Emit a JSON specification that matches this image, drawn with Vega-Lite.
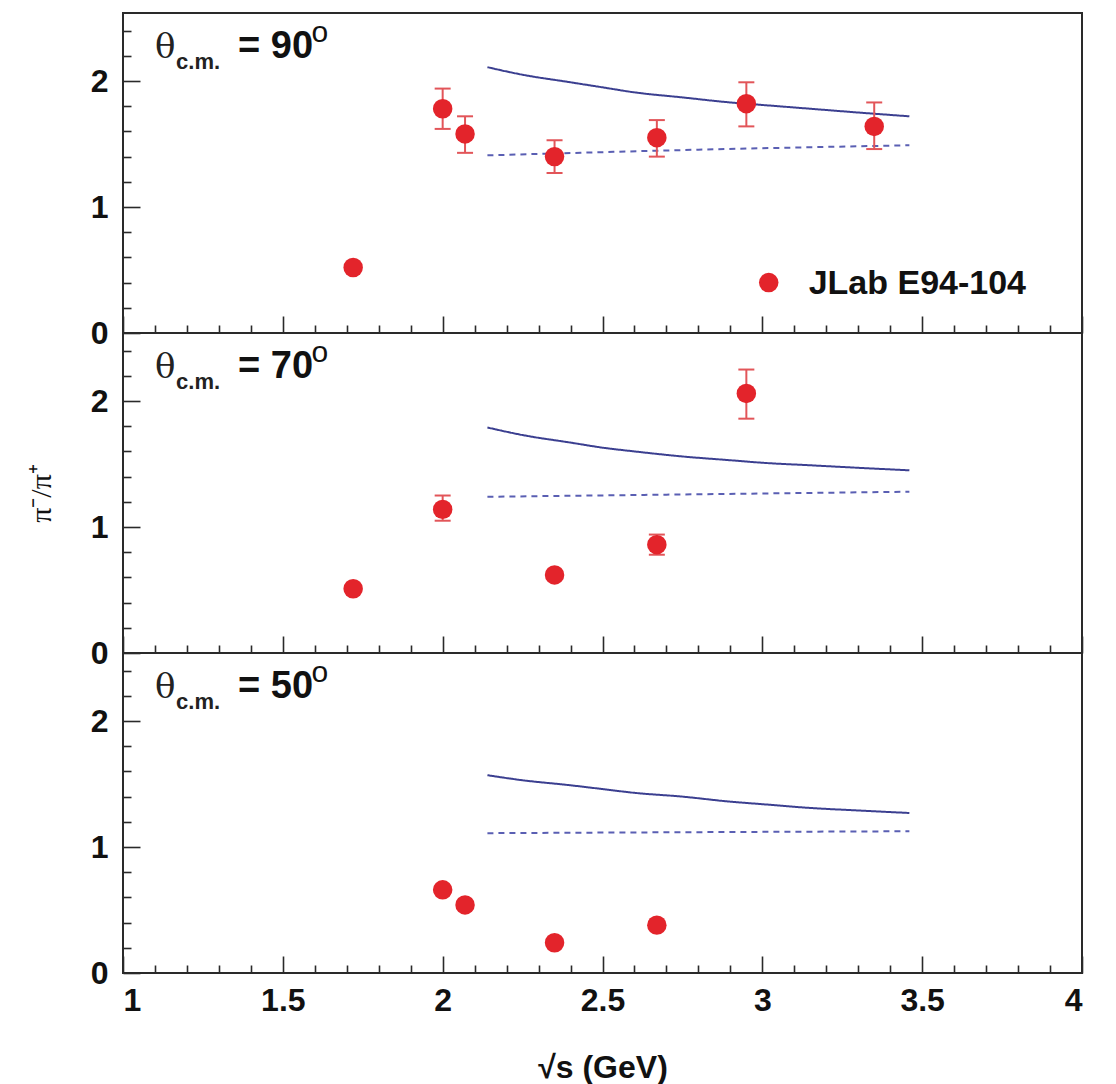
{
  "$schema": "https://vega.github.io/schema/vega-lite/v6.json",
  "padding": {"left": 25, "top": 12, "right": 5, "bottom": 5},
  "background": "white",
  "datasets": {
    "points": [
      {"panel": 90, "s": 1.72, "r": 0.52, "lo": null, "hi": null},
      {"panel": 90, "s": 2.0, "r": 1.78, "lo": 1.62, "hi": 1.94},
      {"panel": 90, "s": 2.07, "r": 1.58, "lo": 1.43, "hi": 1.72},
      {"panel": 90, "s": 2.35, "r": 1.40, "lo": 1.27, "hi": 1.53},
      {"panel": 90, "s": 2.67, "r": 1.55, "lo": 1.40, "hi": 1.69},
      {"panel": 90, "s": 2.95, "r": 1.82, "lo": 1.64, "hi": 1.99},
      {"panel": 90, "s": 3.35, "r": 1.64, "lo": 1.46, "hi": 1.83},
      {"panel": 70, "s": 1.72, "r": 0.51, "lo": null, "hi": null},
      {"panel": 70, "s": 2.0, "r": 1.14, "lo": 1.05, "hi": 1.25},
      {"panel": 70, "s": 2.35, "r": 0.62, "lo": null, "hi": null},
      {"panel": 70, "s": 2.67, "r": 0.86, "lo": 0.78, "hi": 0.94},
      {"panel": 70, "s": 2.95, "r": 2.06, "lo": 1.86, "hi": 2.25},
      {"panel": 50, "s": 2.0, "r": 0.66, "lo": null, "hi": null},
      {"panel": 50, "s": 2.07, "r": 0.54, "lo": null, "hi": null},
      {"panel": 50, "s": 2.35, "r": 0.24, "lo": null, "hi": null},
      {"panel": 50, "s": 2.67, "r": 0.38, "lo": null, "hi": null}
    ],
    "curves": [
      {"panel": 90, "model": "curve1", "s": 2.14, "r": 2.11},
      {"panel": 90, "model": "curve1", "s": 2.25, "r": 2.05},
      {"panel": 90, "model": "curve1", "s": 2.4, "r": 1.99},
      {"panel": 90, "model": "curve1", "s": 2.5, "r": 1.95},
      {"panel": 90, "model": "curve1", "s": 2.6, "r": 1.91},
      {"panel": 90, "model": "curve1", "s": 2.75, "r": 1.87},
      {"panel": 90, "model": "curve1", "s": 2.9, "r": 1.83},
      {"panel": 90, "model": "curve1", "s": 3.0, "r": 1.81},
      {"panel": 90, "model": "curve1", "s": 3.15, "r": 1.78},
      {"panel": 90, "model": "curve1", "s": 3.3, "r": 1.75},
      {"panel": 90, "model": "curve1", "s": 3.46, "r": 1.72},
      {"panel": 90, "model": "curve2", "s": 2.14, "r": 1.41},
      {"panel": 90, "model": "curve2", "s": 2.8, "r": 1.455},
      {"panel": 90, "model": "curve2", "s": 3.46, "r": 1.49},
      {"panel": 70, "model": "curve1", "s": 2.14, "r": 1.79},
      {"panel": 70, "model": "curve1", "s": 2.25, "r": 1.73},
      {"panel": 70, "model": "curve1", "s": 2.4, "r": 1.67},
      {"panel": 70, "model": "curve1", "s": 2.5, "r": 1.63},
      {"panel": 70, "model": "curve1", "s": 2.6, "r": 1.60},
      {"panel": 70, "model": "curve1", "s": 2.75, "r": 1.56},
      {"panel": 70, "model": "curve1", "s": 2.9, "r": 1.53},
      {"panel": 70, "model": "curve1", "s": 3.0, "r": 1.51},
      {"panel": 70, "model": "curve1", "s": 3.15, "r": 1.49},
      {"panel": 70, "model": "curve1", "s": 3.3, "r": 1.47},
      {"panel": 70, "model": "curve1", "s": 3.46, "r": 1.45},
      {"panel": 70, "model": "curve2", "s": 2.14, "r": 1.24},
      {"panel": 70, "model": "curve2", "s": 2.8, "r": 1.26},
      {"panel": 70, "model": "curve2", "s": 3.46, "r": 1.28},
      {"panel": 50, "model": "curve1", "s": 2.14, "r": 1.57},
      {"panel": 50, "model": "curve1", "s": 2.25, "r": 1.53},
      {"panel": 50, "model": "curve1", "s": 2.4, "r": 1.49},
      {"panel": 50, "model": "curve1", "s": 2.5, "r": 1.46},
      {"panel": 50, "model": "curve1", "s": 2.6, "r": 1.43},
      {"panel": 50, "model": "curve1", "s": 2.75, "r": 1.40},
      {"panel": 50, "model": "curve1", "s": 2.9, "r": 1.36},
      {"panel": 50, "model": "curve1", "s": 3.0, "r": 1.34},
      {"panel": 50, "model": "curve1", "s": 3.15, "r": 1.31},
      {"panel": 50, "model": "curve1", "s": 3.3, "r": 1.29},
      {"panel": 50, "model": "curve1", "s": 3.46, "r": 1.27},
      {"panel": 50, "model": "curve2", "s": 2.14, "r": 1.11},
      {"panel": 50, "model": "curve2", "s": 2.8, "r": 1.118},
      {"panel": 50, "model": "curve2", "s": 3.46, "r": 1.125}
    ],
    "panelinfo": [
      {"panel": 90, "angle": "= 90"},
      {"panel": 70, "angle": "= 70"},
      {"panel": 50, "angle": "= 50"}
    ]
  },
  "config": {
    "view": {"stroke": "#2a2a2a", "strokeWidth": 2},
    "axis": {
      "grid": false,
      "domain": false,
      "labelOverlap": false,
      "tickColor": "#2a2a2a",
      "tickWidth": 1.6,
      "labelFont": "Liberation Sans",
      "labelFontWeight": "bold",
      "labelFontSize": 32,
      "labelColor": "#111111",
      "titleColor": "#111111"
    }
  },
  "spacing": 0,
  "bounds": "flush",
  "vconcat": [
    {
      "width": 959,
      "height": 320,
      "layer": [
        {
          "encoding": {
            "x": {"field": "s", "type": "quantitative", "scale": {"domain": [1, 4], "nice": false, "zero": false},
              "axis": {"title": null, "labels": false, "values": [1,1.1,1.2,1.3,1.4,1.5,1.6,1.7,1.8,1.9,2,2.1,2.2,2.3,2.4,2.5,2.6,2.7,2.8,2.9,3,3.1,3.2,3.3,3.4,3.5,3.6,3.7,3.8,3.9,4],
                "tickSize": {"condition": {"test": "abs(datum.value*2 - round(datum.value*2)) < 0.001", "value": -17}, "value": -8}}},
            "y": {"field": "r", "type": "quantitative", "scale": {"domain": [0, 2.54], "nice": false},
              "axis": {"title": null, "values": [0,0.2,0.4,0.6,0.8,1,1.2,1.4,1.6,1.8,2,2.2,2.4], "labelPadding": 32,
                "labelExpr": "abs(datum.value - round(datum.value)) < 0.001 ? format(datum.value, '') : ''",
                "tickSize": {"condition": {"test": "abs(datum.value - round(datum.value)) < 0.001", "value": -17}, "value": -8}}}
          },
          "layer": [
            {"data": {"name": "curves"}, "transform": [{"filter": "datum.panel == 90"}],
              "mark": {"type": "line", "strokeWidth": 2, "interpolate": "monotone"},
              "encoding": {
                "color": {"field": "model", "type": "nominal", "scale": {"domain": ["curve1", "curve2"], "range": ["#3b3f90", "#5a5fb3"]}, "legend": null},
                "strokeDash": {"field": "model", "type": "nominal", "scale": {"domain": ["curve1", "curve2"], "range": [[1, 0], [6, 5]]}, "legend": null}
              }},
            {"data": {"name": "points"}, "transform": [{"filter": "datum.panel == 90 && datum.lo != null"}],
              "mark": {"type": "rule", "color": "#e25559", "strokeWidth": 2},
              "encoding": {"y": {"field": "lo", "type": "quantitative"}, "y2": {"field": "hi"}}},
            {"data": {"name": "points"}, "transform": [{"filter": "datum.panel == 90 && datum.lo != null"}],
              "mark": {"type": "tick", "orient": "horizontal", "color": "#e25559", "size": 16, "thickness": 2, "opacity": 1},
              "encoding": {"y": {"field": "lo", "type": "quantitative"}}},
            {"data": {"name": "points"}, "transform": [{"filter": "datum.panel == 90 && datum.lo != null"}],
              "mark": {"type": "tick", "orient": "horizontal", "color": "#e25559", "size": 16, "thickness": 2, "opacity": 1},
              "encoding": {"y": {"field": "hi", "type": "quantitative"}}},
            {"data": {"name": "points"}, "transform": [{"filter": "datum.panel == 90"}],
              "mark": {"type": "point", "filled": true, "size": 380, "color": "#e3242b", "opacity": 1},
              "encoding": {}}
          ]
        },
        {"data": {"name": "panelinfo"}, "transform": [{"filter": "datum.panel == 90"}],
          "mark": {"type": "text", "font": "DejaVu Serif", "fontSize": 34, "align": "left", "baseline": "alphabetic", "color": "#222"},
          "encoding": {
            "x": {"datum": 1.1, "type": "quantitative", "axis": {"title": null, "labels": false, "values": [1,1.1,1.2,1.3,1.4,1.5,1.6,1.7,1.8,1.9,2,2.1,2.2,2.3,2.4,2.5,2.6,2.7,2.8,2.9,3,3.1,3.2,3.3,3.4,3.5,3.6,3.7,3.8,3.9,4], "tickSize": {"condition": {"test": "abs(datum.value*2 - round(datum.value*2)) < 0.001", "value": -17}, "value": -8}}},
            "y": {"datum": 2.18, "type": "quantitative", "axis": {"title": null, "values": [0,0.2,0.4,0.6,0.8,1,1.2,1.4,1.6,1.8,2,2.2,2.4], "labelPadding": 32, "labelExpr": "abs(datum.value - round(datum.value)) < 0.001 ? format(datum.value, '') : ''", "tickSize": {"condition": {"test": "abs(datum.value - round(datum.value)) < 0.001", "value": -17}, "value": -8}}},
            "text": {"value": "θ"}}},
        {"data": {"name": "panelinfo"}, "transform": [{"filter": "datum.panel == 90"}],
          "mark": {"type": "text", "font": "Liberation Sans", "fontWeight": "bold", "fontSize": 22, "align": "left", "baseline": "alphabetic", "color": "#222"},
          "encoding": {
            "x": {"datum": 1.166, "type": "quantitative", "axis": {"title": null, "labels": false, "values": [1,1.1,1.2,1.3,1.4,1.5,1.6,1.7,1.8,1.9,2,2.1,2.2,2.3,2.4,2.5,2.6,2.7,2.8,2.9,3,3.1,3.2,3.3,3.4,3.5,3.6,3.7,3.8,3.9,4], "tickSize": {"condition": {"test": "abs(datum.value*2 - round(datum.value*2)) < 0.001", "value": -17}, "value": -8}}},
            "y": {"datum": 2.095, "type": "quantitative", "axis": {"title": null, "values": [0,0.2,0.4,0.6,0.8,1,1.2,1.4,1.6,1.8,2,2.2,2.4], "labelPadding": 32, "labelExpr": "abs(datum.value - round(datum.value)) < 0.001 ? format(datum.value, '') : ''", "tickSize": {"condition": {"test": "abs(datum.value - round(datum.value)) < 0.001", "value": -17}, "value": -8}}},
            "text": {"value": "c.m."}}},
        {"data": {"name": "panelinfo"}, "transform": [{"filter": "datum.panel == 90"}],
          "mark": {"type": "text", "font": "Liberation Sans", "fontWeight": "bold", "fontSize": 38, "align": "left", "baseline": "alphabetic", "color": "#111"},
          "encoding": {
            "x": {"datum": 1.36, "type": "quantitative", "axis": {"title": null, "labels": false, "values": [1,1.1,1.2,1.3,1.4,1.5,1.6,1.7,1.8,1.9,2,2.1,2.2,2.3,2.4,2.5,2.6,2.7,2.8,2.9,3,3.1,3.2,3.3,3.4,3.5,3.6,3.7,3.8,3.9,4], "tickSize": {"condition": {"test": "abs(datum.value*2 - round(datum.value*2)) < 0.001", "value": -17}, "value": -8}}},
            "y": {"datum": 2.18, "type": "quantitative", "axis": {"title": null, "values": [0,0.2,0.4,0.6,0.8,1,1.2,1.4,1.6,1.8,2,2.2,2.4], "labelPadding": 32, "labelExpr": "abs(datum.value - round(datum.value)) < 0.001 ? format(datum.value, '') : ''", "tickSize": {"condition": {"test": "abs(datum.value - round(datum.value)) < 0.001", "value": -17}, "value": -8}}},
            "text": {"field": "angle"}}},
        {"data": {"name": "panelinfo"}, "transform": [{"filter": "datum.panel == 90"}],
          "mark": {"type": "text", "font": "Liberation Sans", "fontSize": 30, "align": "left", "baseline": "alphabetic", "color": "#111"},
          "encoding": {
            "x": {"datum": 1.59, "type": "quantitative", "axis": {"title": null, "labels": false, "values": [1,1.1,1.2,1.3,1.4,1.5,1.6,1.7,1.8,1.9,2,2.1,2.2,2.3,2.4,2.5,2.6,2.7,2.8,2.9,3,3.1,3.2,3.3,3.4,3.5,3.6,3.7,3.8,3.9,4], "tickSize": {"condition": {"test": "abs(datum.value*2 - round(datum.value*2)) < 0.001", "value": -17}, "value": -8}}},
            "y": {"datum": 2.31, "type": "quantitative", "axis": {"title": null, "values": [0,0.2,0.4,0.6,0.8,1,1.2,1.4,1.6,1.8,2,2.2,2.4], "labelPadding": 32, "labelExpr": "abs(datum.value - round(datum.value)) < 0.001 ? format(datum.value, '') : ''", "tickSize": {"condition": {"test": "abs(datum.value - round(datum.value)) < 0.001", "value": -17}, "value": -8}}},
            "text": {"value": "o"}}},
        {"data": {"name": "panelinfo"}, "transform": [{"filter": "datum.panel == 90"}],
          "mark": {"type": "point", "filled": true, "size": 380, "color": "#e3242b", "opacity": 1},
          "encoding": {
            "x": {"datum": 3.02, "type": "quantitative", "axis": {"title": null, "labels": false, "values": [1,1.1,1.2,1.3,1.4,1.5,1.6,1.7,1.8,1.9,2,2.1,2.2,2.3,2.4,2.5,2.6,2.7,2.8,2.9,3,3.1,3.2,3.3,3.4,3.5,3.6,3.7,3.8,3.9,4], "tickSize": {"condition": {"test": "abs(datum.value*2 - round(datum.value*2)) < 0.001", "value": -17}, "value": -8}}},
            "y": {"datum": 0.4, "type": "quantitative", "axis": {"title": null, "values": [0,0.2,0.4,0.6,0.8,1,1.2,1.4,1.6,1.8,2,2.2,2.4], "labelPadding": 32, "labelExpr": "abs(datum.value - round(datum.value)) < 0.001 ? format(datum.value, '') : ''", "tickSize": {"condition": {"test": "abs(datum.value - round(datum.value)) < 0.001", "value": -17}, "value": -8}}}}},
        {"data": {"name": "panelinfo"}, "transform": [{"filter": "datum.panel == 90"}],
          "mark": {"type": "text", "font": "Liberation Sans", "fontWeight": "bold", "fontSize": 34, "align": "left", "baseline": "middle", "color": "#111"},
          "encoding": {
            "x": {"datum": 3.145, "type": "quantitative", "axis": {"title": null, "labels": false, "values": [1,1.1,1.2,1.3,1.4,1.5,1.6,1.7,1.8,1.9,2,2.1,2.2,2.3,2.4,2.5,2.6,2.7,2.8,2.9,3,3.1,3.2,3.3,3.4,3.5,3.6,3.7,3.8,3.9,4], "tickSize": {"condition": {"test": "abs(datum.value*2 - round(datum.value*2)) < 0.001", "value": -17}, "value": -8}}},
            "y": {"datum": 0.39, "type": "quantitative", "axis": {"title": null, "values": [0,0.2,0.4,0.6,0.8,1,1.2,1.4,1.6,1.8,2,2.2,2.4], "labelPadding": 32, "labelExpr": "abs(datum.value - round(datum.value)) < 0.001 ? format(datum.value, '') : ''", "tickSize": {"condition": {"test": "abs(datum.value - round(datum.value)) < 0.001", "value": -17}, "value": -8}}},
            "text": {"value": "JLab E94-104"}}}
      ]
    },
    {
      "width": 959,
      "height": 320,
      "layer": [
        {
          "encoding": {
            "x": {"field": "s", "type": "quantitative", "scale": {"domain": [1, 4], "nice": false, "zero": false},
              "axis": {"title": null, "labels": false, "values": [1,1.1,1.2,1.3,1.4,1.5,1.6,1.7,1.8,1.9,2,2.1,2.2,2.3,2.4,2.5,2.6,2.7,2.8,2.9,3,3.1,3.2,3.3,3.4,3.5,3.6,3.7,3.8,3.9,4],
                "tickSize": {"condition": {"test": "abs(datum.value*2 - round(datum.value*2)) < 0.001", "value": -17}, "value": -8}}},
            "y": {"field": "r", "type": "quantitative", "scale": {"domain": [0, 2.54], "nice": false},
              "axis": {"title": "π⁻/π⁺", "titleFont": "Liberation Serif", "titleFontSize": 30, "titleFontWeight": "normal", "titlePadding": 34,
                "values": [0,0.2,0.4,0.6,0.8,1,1.2,1.4,1.6,1.8,2,2.2,2.4], "labelPadding": 32,
                "labelExpr": "abs(datum.value - round(datum.value)) < 0.001 ? format(datum.value, '') : ''",
                "tickSize": {"condition": {"test": "abs(datum.value - round(datum.value)) < 0.001", "value": -17}, "value": -8}}}
          },
          "layer": [
            {"data": {"name": "curves"}, "transform": [{"filter": "datum.panel == 70"}],
              "mark": {"type": "line", "strokeWidth": 2, "interpolate": "monotone"},
              "encoding": {
                "color": {"field": "model", "type": "nominal", "scale": {"domain": ["curve1", "curve2"], "range": ["#3b3f90", "#5a5fb3"]}, "legend": null},
                "strokeDash": {"field": "model", "type": "nominal", "scale": {"domain": ["curve1", "curve2"], "range": [[1, 0], [6, 5]]}, "legend": null}
              }},
            {"data": {"name": "points"}, "transform": [{"filter": "datum.panel == 70 && datum.lo != null"}],
              "mark": {"type": "rule", "color": "#e25559", "strokeWidth": 2},
              "encoding": {"y": {"field": "lo", "type": "quantitative"}, "y2": {"field": "hi"}}},
            {"data": {"name": "points"}, "transform": [{"filter": "datum.panel == 70 && datum.lo != null"}],
              "mark": {"type": "tick", "orient": "horizontal", "color": "#e25559", "size": 16, "thickness": 2, "opacity": 1},
              "encoding": {"y": {"field": "lo", "type": "quantitative"}}},
            {"data": {"name": "points"}, "transform": [{"filter": "datum.panel == 70 && datum.lo != null"}],
              "mark": {"type": "tick", "orient": "horizontal", "color": "#e25559", "size": 16, "thickness": 2, "opacity": 1},
              "encoding": {"y": {"field": "hi", "type": "quantitative"}}},
            {"data": {"name": "points"}, "transform": [{"filter": "datum.panel == 70"}],
              "mark": {"type": "point", "filled": true, "size": 380, "color": "#e3242b", "opacity": 1},
              "encoding": {}}
          ]
        },
        {"data": {"name": "panelinfo"}, "transform": [{"filter": "datum.panel == 70"}],
          "mark": {"type": "text", "font": "DejaVu Serif", "fontSize": 34, "align": "left", "baseline": "alphabetic", "color": "#222"},
          "encoding": {
            "x": {"datum": 1.1, "type": "quantitative", "axis": {"title": null, "labels": false, "values": [1,1.1,1.2,1.3,1.4,1.5,1.6,1.7,1.8,1.9,2,2.1,2.2,2.3,2.4,2.5,2.6,2.7,2.8,2.9,3,3.1,3.2,3.3,3.4,3.5,3.6,3.7,3.8,3.9,4], "tickSize": {"condition": {"test": "abs(datum.value*2 - round(datum.value*2)) < 0.001", "value": -17}, "value": -8}}},
            "y": {"datum": 2.18, "type": "quantitative", "axis": {"title": "π⁻/π⁺", "titleFont": "Liberation Serif", "titleFontSize": 30, "titleFontWeight": "normal", "titlePadding": 34, "values": [0,0.2,0.4,0.6,0.8,1,1.2,1.4,1.6,1.8,2,2.2,2.4], "labelPadding": 32, "labelExpr": "abs(datum.value - round(datum.value)) < 0.001 ? format(datum.value, '') : ''", "tickSize": {"condition": {"test": "abs(datum.value - round(datum.value)) < 0.001", "value": -17}, "value": -8}}},
            "text": {"value": "θ"}}},
        {"data": {"name": "panelinfo"}, "transform": [{"filter": "datum.panel == 70"}],
          "mark": {"type": "text", "font": "Liberation Sans", "fontWeight": "bold", "fontSize": 22, "align": "left", "baseline": "alphabetic", "color": "#222"},
          "encoding": {
            "x": {"datum": 1.166, "type": "quantitative", "axis": {"title": null, "labels": false, "values": [1,1.1,1.2,1.3,1.4,1.5,1.6,1.7,1.8,1.9,2,2.1,2.2,2.3,2.4,2.5,2.6,2.7,2.8,2.9,3,3.1,3.2,3.3,3.4,3.5,3.6,3.7,3.8,3.9,4], "tickSize": {"condition": {"test": "abs(datum.value*2 - round(datum.value*2)) < 0.001", "value": -17}, "value": -8}}},
            "y": {"datum": 2.095, "type": "quantitative", "axis": {"title": "π⁻/π⁺", "titleFont": "Liberation Serif", "titleFontSize": 30, "titleFontWeight": "normal", "titlePadding": 34, "values": [0,0.2,0.4,0.6,0.8,1,1.2,1.4,1.6,1.8,2,2.2,2.4], "labelPadding": 32, "labelExpr": "abs(datum.value - round(datum.value)) < 0.001 ? format(datum.value, '') : ''", "tickSize": {"condition": {"test": "abs(datum.value - round(datum.value)) < 0.001", "value": -17}, "value": -8}}},
            "text": {"value": "c.m."}}},
        {"data": {"name": "panelinfo"}, "transform": [{"filter": "datum.panel == 70"}],
          "mark": {"type": "text", "font": "Liberation Sans", "fontWeight": "bold", "fontSize": 38, "align": "left", "baseline": "alphabetic", "color": "#111"},
          "encoding": {
            "x": {"datum": 1.36, "type": "quantitative", "axis": {"title": null, "labels": false, "values": [1,1.1,1.2,1.3,1.4,1.5,1.6,1.7,1.8,1.9,2,2.1,2.2,2.3,2.4,2.5,2.6,2.7,2.8,2.9,3,3.1,3.2,3.3,3.4,3.5,3.6,3.7,3.8,3.9,4], "tickSize": {"condition": {"test": "abs(datum.value*2 - round(datum.value*2)) < 0.001", "value": -17}, "value": -8}}},
            "y": {"datum": 2.18, "type": "quantitative", "axis": {"title": "π⁻/π⁺", "titleFont": "Liberation Serif", "titleFontSize": 30, "titleFontWeight": "normal", "titlePadding": 34, "values": [0,0.2,0.4,0.6,0.8,1,1.2,1.4,1.6,1.8,2,2.2,2.4], "labelPadding": 32, "labelExpr": "abs(datum.value - round(datum.value)) < 0.001 ? format(datum.value, '') : ''", "tickSize": {"condition": {"test": "abs(datum.value - round(datum.value)) < 0.001", "value": -17}, "value": -8}}},
            "text": {"field": "angle"}}},
        {"data": {"name": "panelinfo"}, "transform": [{"filter": "datum.panel == 70"}],
          "mark": {"type": "text", "font": "Liberation Sans", "fontSize": 30, "align": "left", "baseline": "alphabetic", "color": "#111"},
          "encoding": {
            "x": {"datum": 1.59, "type": "quantitative", "axis": {"title": null, "labels": false, "values": [1,1.1,1.2,1.3,1.4,1.5,1.6,1.7,1.8,1.9,2,2.1,2.2,2.3,2.4,2.5,2.6,2.7,2.8,2.9,3,3.1,3.2,3.3,3.4,3.5,3.6,3.7,3.8,3.9,4], "tickSize": {"condition": {"test": "abs(datum.value*2 - round(datum.value*2)) < 0.001", "value": -17}, "value": -8}}},
            "y": {"datum": 2.31, "type": "quantitative", "axis": {"title": "π⁻/π⁺", "titleFont": "Liberation Serif", "titleFontSize": 30, "titleFontWeight": "normal", "titlePadding": 34, "values": [0,0.2,0.4,0.6,0.8,1,1.2,1.4,1.6,1.8,2,2.2,2.4], "labelPadding": 32, "labelExpr": "abs(datum.value - round(datum.value)) < 0.001 ? format(datum.value, '') : ''", "tickSize": {"condition": {"test": "abs(datum.value - round(datum.value)) < 0.001", "value": -17}, "value": -8}}},
            "text": {"value": "o"}}}
      ]
    },
    {
      "width": 959,
      "height": 320,
      "layer": [
        {
          "encoding": {
            "x": {"field": "s", "type": "quantitative", "scale": {"domain": [1, 4], "nice": false, "zero": false},
              "axis": {"title": "√s (GeV)", "titleFont": "Liberation Sans", "titleFontWeight": "bold", "titleFontSize": 32, "titlePadding": 27,
                "values": [1,1.1,1.2,1.3,1.4,1.5,1.6,1.7,1.8,1.9,2,2.1,2.2,2.3,2.4,2.5,2.6,2.7,2.8,2.9,3,3.1,3.2,3.3,3.4,3.5,3.6,3.7,3.8,3.9,4],
                "labelPadding": 29,
                "labelExpr": "abs(datum.value*2 - round(datum.value*2)) < 0.001 ? format(datum.value, '') : ''",
                "tickSize": {"condition": {"test": "abs(datum.value*2 - round(datum.value*2)) < 0.001", "value": -17}, "value": -8}}},
            "y": {"field": "r", "type": "quantitative", "scale": {"domain": [0, 2.54], "nice": false},
              "axis": {"title": null, "values": [0,0.2,0.4,0.6,0.8,1,1.2,1.4,1.6,1.8,2,2.2,2.4], "labelPadding": 32,
                "labelExpr": "abs(datum.value - round(datum.value)) < 0.001 ? format(datum.value, '') : ''",
                "tickSize": {"condition": {"test": "abs(datum.value - round(datum.value)) < 0.001", "value": -17}, "value": -8}}}
          },
          "layer": [
            {"data": {"name": "curves"}, "transform": [{"filter": "datum.panel == 50"}],
              "mark": {"type": "line", "strokeWidth": 2, "interpolate": "monotone"},
              "encoding": {
                "color": {"field": "model", "type": "nominal", "scale": {"domain": ["curve1", "curve2"], "range": ["#3b3f90", "#5a5fb3"]}, "legend": null},
                "strokeDash": {"field": "model", "type": "nominal", "scale": {"domain": ["curve1", "curve2"], "range": [[1, 0], [6, 5]]}, "legend": null}
              }},
            {"data": {"name": "points"}, "transform": [{"filter": "datum.panel == 50"}],
              "mark": {"type": "point", "filled": true, "size": 380, "color": "#e3242b", "opacity": 1},
              "encoding": {}}
          ]
        },
        {"data": {"name": "panelinfo"}, "transform": [{"filter": "datum.panel == 50"}],
          "mark": {"type": "text", "font": "DejaVu Serif", "fontSize": 34, "align": "left", "baseline": "alphabetic", "color": "#222"},
          "encoding": {
            "x": {"datum": 1.1, "type": "quantitative", "axis": {"title": "√s (GeV)", "titleFont": "Liberation Sans", "titleFontWeight": "bold", "titleFontSize": 32, "titlePadding": 27, "values": [1,1.1,1.2,1.3,1.4,1.5,1.6,1.7,1.8,1.9,2,2.1,2.2,2.3,2.4,2.5,2.6,2.7,2.8,2.9,3,3.1,3.2,3.3,3.4,3.5,3.6,3.7,3.8,3.9,4], "labelPadding": 29, "labelExpr": "abs(datum.value*2 - round(datum.value*2)) < 0.001 ? format(datum.value, '') : ''", "tickSize": {"condition": {"test": "abs(datum.value*2 - round(datum.value*2)) < 0.001", "value": -17}, "value": -8}}},
            "y": {"datum": 2.18, "type": "quantitative", "axis": {"title": null, "values": [0,0.2,0.4,0.6,0.8,1,1.2,1.4,1.6,1.8,2,2.2,2.4], "labelPadding": 32, "labelExpr": "abs(datum.value - round(datum.value)) < 0.001 ? format(datum.value, '') : ''", "tickSize": {"condition": {"test": "abs(datum.value - round(datum.value)) < 0.001", "value": -17}, "value": -8}}},
            "text": {"value": "θ"}}},
        {"data": {"name": "panelinfo"}, "transform": [{"filter": "datum.panel == 50"}],
          "mark": {"type": "text", "font": "Liberation Sans", "fontWeight": "bold", "fontSize": 22, "align": "left", "baseline": "alphabetic", "color": "#222"},
          "encoding": {
            "x": {"datum": 1.166, "type": "quantitative", "axis": {"title": "√s (GeV)", "titleFont": "Liberation Sans", "titleFontWeight": "bold", "titleFontSize": 32, "titlePadding": 27, "values": [1,1.1,1.2,1.3,1.4,1.5,1.6,1.7,1.8,1.9,2,2.1,2.2,2.3,2.4,2.5,2.6,2.7,2.8,2.9,3,3.1,3.2,3.3,3.4,3.5,3.6,3.7,3.8,3.9,4], "labelPadding": 29, "labelExpr": "abs(datum.value*2 - round(datum.value*2)) < 0.001 ? format(datum.value, '') : ''", "tickSize": {"condition": {"test": "abs(datum.value*2 - round(datum.value*2)) < 0.001", "value": -17}, "value": -8}}},
            "y": {"datum": 2.095, "type": "quantitative", "axis": {"title": null, "values": [0,0.2,0.4,0.6,0.8,1,1.2,1.4,1.6,1.8,2,2.2,2.4], "labelPadding": 32, "labelExpr": "abs(datum.value - round(datum.value)) < 0.001 ? format(datum.value, '') : ''", "tickSize": {"condition": {"test": "abs(datum.value - round(datum.value)) < 0.001", "value": -17}, "value": -8}}},
            "text": {"value": "c.m."}}},
        {"data": {"name": "panelinfo"}, "transform": [{"filter": "datum.panel == 50"}],
          "mark": {"type": "text", "font": "Liberation Sans", "fontWeight": "bold", "fontSize": 38, "align": "left", "baseline": "alphabetic", "color": "#111"},
          "encoding": {
            "x": {"datum": 1.36, "type": "quantitative", "axis": {"title": "√s (GeV)", "titleFont": "Liberation Sans", "titleFontWeight": "bold", "titleFontSize": 32, "titlePadding": 27, "values": [1,1.1,1.2,1.3,1.4,1.5,1.6,1.7,1.8,1.9,2,2.1,2.2,2.3,2.4,2.5,2.6,2.7,2.8,2.9,3,3.1,3.2,3.3,3.4,3.5,3.6,3.7,3.8,3.9,4], "labelPadding": 29, "labelExpr": "abs(datum.value*2 - round(datum.value*2)) < 0.001 ? format(datum.value, '') : ''", "tickSize": {"condition": {"test": "abs(datum.value*2 - round(datum.value*2)) < 0.001", "value": -17}, "value": -8}}},
            "y": {"datum": 2.18, "type": "quantitative", "axis": {"title": null, "values": [0,0.2,0.4,0.6,0.8,1,1.2,1.4,1.6,1.8,2,2.2,2.4], "labelPadding": 32, "labelExpr": "abs(datum.value - round(datum.value)) < 0.001 ? format(datum.value, '') : ''", "tickSize": {"condition": {"test": "abs(datum.value - round(datum.value)) < 0.001", "value": -17}, "value": -8}}},
            "text": {"field": "angle"}}},
        {"data": {"name": "panelinfo"}, "transform": [{"filter": "datum.panel == 50"}],
          "mark": {"type": "text", "font": "Liberation Sans", "fontSize": 30, "align": "left", "baseline": "alphabetic", "color": "#111"},
          "encoding": {
            "x": {"datum": 1.59, "type": "quantitative", "axis": {"title": "√s (GeV)", "titleFont": "Liberation Sans", "titleFontWeight": "bold", "titleFontSize": 32, "titlePadding": 27, "values": [1,1.1,1.2,1.3,1.4,1.5,1.6,1.7,1.8,1.9,2,2.1,2.2,2.3,2.4,2.5,2.6,2.7,2.8,2.9,3,3.1,3.2,3.3,3.4,3.5,3.6,3.7,3.8,3.9,4], "labelPadding": 29, "labelExpr": "abs(datum.value*2 - round(datum.value*2)) < 0.001 ? format(datum.value, '') : ''", "tickSize": {"condition": {"test": "abs(datum.value*2 - round(datum.value*2)) < 0.001", "value": -17}, "value": -8}}},
            "y": {"datum": 2.31, "type": "quantitative", "axis": {"title": null, "values": [0,0.2,0.4,0.6,0.8,1,1.2,1.4,1.6,1.8,2,2.2,2.4], "labelPadding": 32, "labelExpr": "abs(datum.value - round(datum.value)) < 0.001 ? format(datum.value, '') : ''", "tickSize": {"condition": {"test": "abs(datum.value - round(datum.value)) < 0.001", "value": -17}, "value": -8}}},
            "text": {"value": "o"}}}
      ]
    }
  ]
}
